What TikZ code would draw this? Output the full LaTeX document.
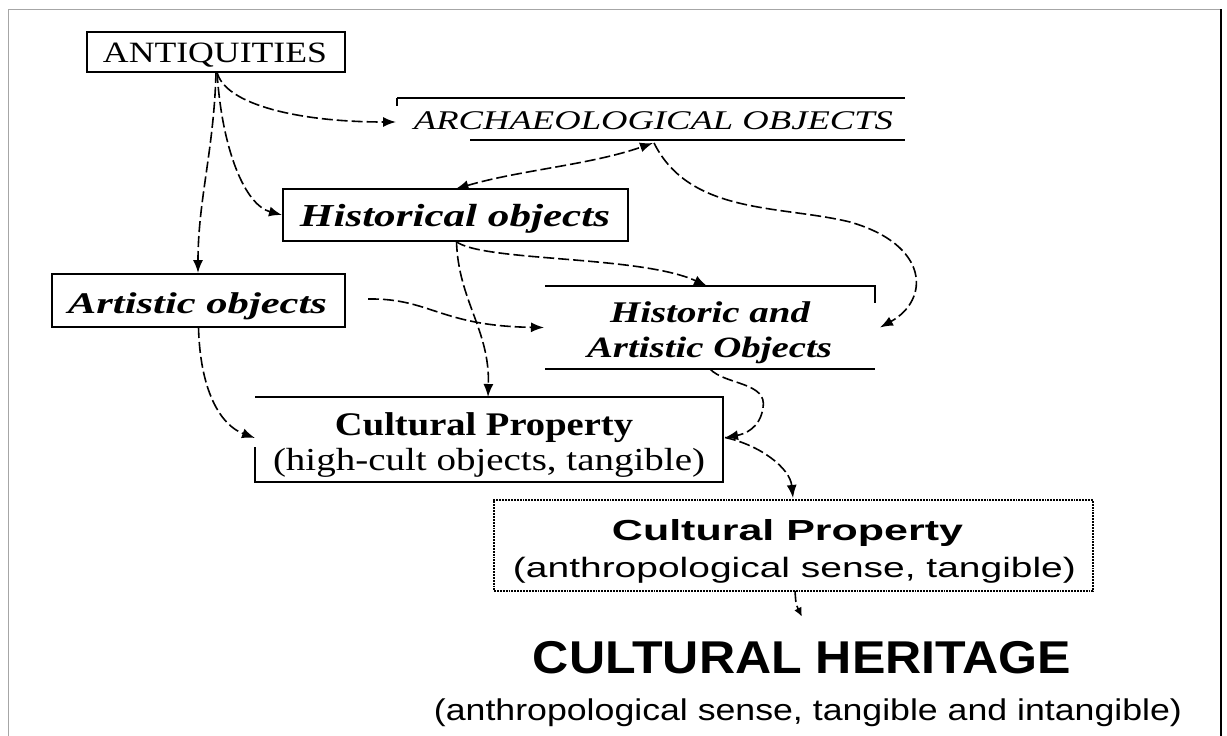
\documentclass[tikz,border=0pt]{standalone}
\usepackage{fontspec}
\setmainfont{Liberation Serif}
\setsansfont{Liberation Sans}
\usepackage{graphicx}
\usetikzlibrary{arrows.meta}
\newcommand\fittxt[3]{\resizebox{#1pt}{\height}{\fontsize{#2}{#2}\selectfont #3}}
\begin{document}
\begin{tikzpicture}[x=1pt,y=-1pt,
  box/.style={inner sep=0pt, outer sep=0pt, line width=1.9pt},
  boxline/.style={line width=1.9pt},
  txt/.style={inner sep=0pt, anchor=base},
  arr/.style={line width=1.6pt, dash pattern=on 11pt off 4pt, -{Latex[length=13pt,width=10pt]}},
  darr/.style={line width=1.6pt, dash pattern=on 11pt off 4pt, {Latex[length=13pt,width=10pt]}-{Latex[length=13pt,width=10pt]}},
  sarr/.style={line width=1.6pt, dash pattern=on 11pt off 4pt, -{Latex[length=9pt,width=8pt]}}]
\useasboundingbox (0,0) rectangle (1227,736);
% outer frame
\draw[gray!70, line width=1.5pt] (8.5,736) -- (8.5,9.5) -- (1221,9.5);
\draw[line width=2.5pt] (1221,9) -- (1221,736);

% boxes
\node[box, draw, minimum width=258pt, minimum height=40pt] (ant) at (216,52) {};
\node[box, minimum width=508pt, minimum height=42pt] (arch) at (651,119) {};
\draw[boxline] (arch.north west) -- (arch.north east);
\draw[boxline] ([xshift=73pt]arch.south west) -- (arch.south east);
\draw[boxline] (arch.north west) -- ([yshift=-8pt]arch.north west);
\node[box, draw, minimum width=345pt, minimum height=52pt] (hist) at (455.5,215) {};
\node[box, draw, minimum width=293pt, minimum height=53pt] (art) at (198.5,300.5) {};
\node[box, minimum width=330pt, minimum height=83pt] (ha) at (710,327.5) {};
\draw[boxline] (ha.north west) -- (ha.north east) -- ([yshift=-17pt]ha.north east);
\draw[boxline] (ha.south west) -- (ha.south east);
\node[box, minimum width=468pt, minimum height=85pt] (cp) at (489,439.5) {};
\draw[boxline] ([yshift=35pt]cp.south west) -- (cp.south west) -- (cp.south east) -- (cp.north east) -- (cp.north west);
\node[box, draw, densely dotted, line width=1.6pt, minimum width=599pt, minimum height=91pt] (cpa) at (793.5,545.5) {};

% texts
\node[txt] (tant) at (215,62) {\fittxt{224}{29.5}{ANTIQUITIES}};
\node[txt] (tarch) at (653.5,129) {\fittxt{479}{27}{\itshape ARCHAEOLOGICAL OBJECTS}};
\node[txt] (thist) at (455,226) {\fittxt{310}{32}{\bfseries\itshape Historical objects}};
\node[txt] (tart) at (197.5,313) {\fittxt{259}{30}{\bfseries\itshape Artistic objects}};
\node[txt] (tha1) at (710,322) {\fittxt{200}{30}{\bfseries\itshape Historic and}};
\node[txt] (tha2) at (709.5,357) {\fittxt{245}{29.5}{\bfseries\itshape Artistic Objects}};
\node[txt] (tcp1) at (484,435) {\fittxt{298}{33}{\bfseries Cultural Property}};
\node[txt] (tcp2) at (489,470) {\fittxt{432}{32}{(high-cult objects, tangible)}};
\node[txt] (tcpa1) at (787.5,540) {\fittxt{351}{29}{\sffamily\bfseries Cultural Property}};
\node[txt] (tcpa2) at (794.5,577) {\fittxt{563}{28}{\sffamily (anthropological sense, tangible)}};
\node[txt] (ch) at (802,673) {\fittxt{538}{46}{\sffamily\bfseries CULTURAL HERITAGE}};
\node[txt] (chsub) at (808,720) {\fittxt{748}{30}{\sffamily (anthropological sense, tangible and intangible)}};

% connectors
\draw[arr] ([xshift=1pt]ant.south) .. controls (225,105) and (300,122) .. ([xshift=-1pt,yshift=-3pt]arch.west);
\draw[arr] ([xshift=1pt]ant.south) .. controls (222,150) and (245,205) .. ([xshift=-1pt]hist.west);
\draw[arr] (ant.south) .. controls (214,150) and (198,200) .. ([xshift=-0.5pt,yshift=1pt]art.north);
\draw[darr] (hist.north) .. controls (520,170) and (590,165) .. ([xshift=2pt,yshift=-3pt]arch.south);
\draw[arr] ([xshift=3pt,yshift=-3pt]arch.south) .. controls (690,215) and (780,205) .. (850,222) .. controls (930,245) and (930,300) .. ([xshift=5pt]ha.east);
\draw[arr] (hist.south) .. controls (480,262) and (640,255) .. ([xshift=-3pt]ha.north);
\draw[arr] ([xshift=1pt]hist.south) .. controls (458,300) and (490,330) .. ([xshift=-1pt]cp.north);
\draw[arr] ([xshift=23pt,yshift=1.5pt]art.east) .. controls (430,298) and (440,326) .. ([xshift=-1pt]ha.west);
\draw[arr] (art.south) .. controls (200,390) and (220,425) .. ([yshift=1.5pt]cp.west);
\draw[arr] (ha.south) .. controls (725,385) and (768,382) .. (763,408) .. controls (760,428) and (745,434) .. ([xshift=2pt,yshift=2pt]cp.east);
\draw[arr] ([xshift=2pt,yshift=2pt]cp.east) .. controls (760,445) and (790,468) .. ([xshift=-0.5pt,yshift=2pt]cpa.north);
\draw[sarr] ([xshift=1.5pt]cpa.south) .. controls (796,605) .. ([yshift=24pt]ch.north);
\end{tikzpicture}
\end{document}
